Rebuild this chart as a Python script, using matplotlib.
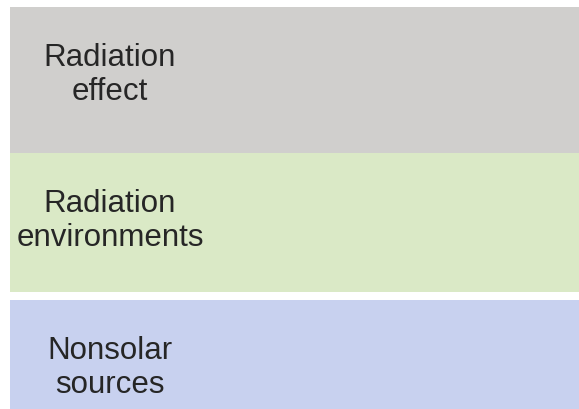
import matplotlib.pyplot as plt

# layer bands (pixel rows, top to bottom)
labels = ["Radiation\neffect", "Radiation\nenvironments", "Nonsolar\nsources"]
band_top = [7, 153, 300]
band_bottom = [153, 292, 410]
label_y = [75, 221, 368]
colors = ["#d0cfcd", "#dae9c6", "#c8d1ef"]

fig = plt.figure(figsize=(5.79, 4.09), dpi=100)
ax = fig.add_axes([0, 0, 1, 1])
ax.set_xlim(0, 579)
ax.set_ylim(409, 0)
ax.axis("off")

heights = [b - t for t, b in zip(band_top, band_bottom)]
ax.barh(band_top, [569] * 3, height=heights, left=10, align="edge",
        color=colors, edgecolor="none")

for lab, y in zip(labels, label_y):
    ax.text(110, y, lab, ha="center", va="center", fontsize=22.5,
            family="Liberation Sans", color="#262626", linespacing=1.15)

fig.savefig("out.png", dpi=100)
